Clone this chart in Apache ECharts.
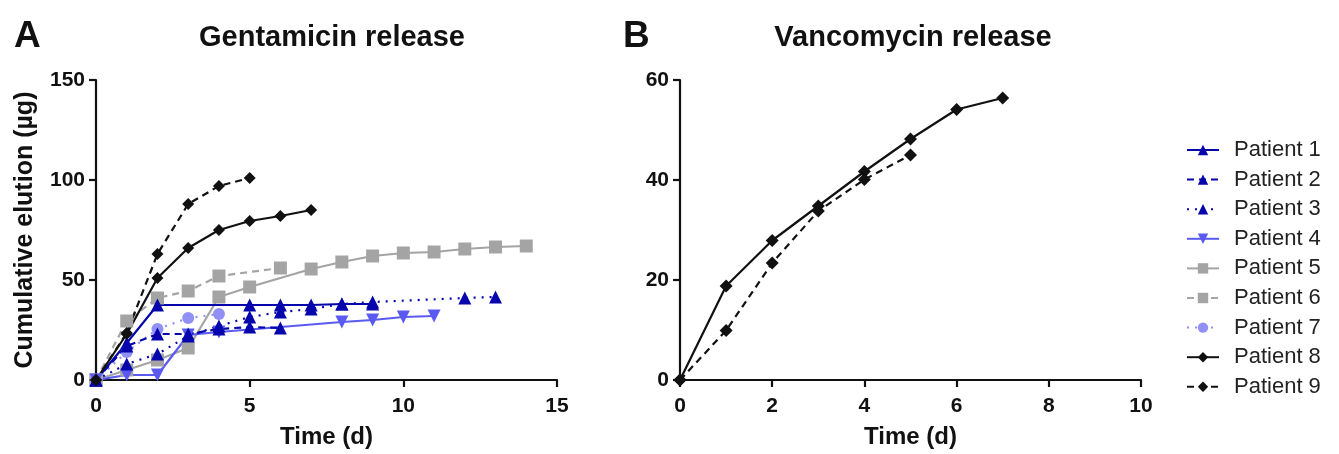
<!DOCTYPE html>
<html>
<head>
<meta charset="utf-8">
<script src="https://cdn.jsdelivr.net/npm/echarts@6/dist/echarts.min.js"></script>
<style>
  html, body { margin: 0; padding: 0; background: #fff; }
  #chart { width: 1339px; height: 454px; }
</style>
</head>
<body>
<div id="chart"></div>
<script>
// Sampling days (index = day); null where no sample was taken
const gentaDays = [0, 1, 2, 3, 4, 5, 6, 7, 8, 9, 10, 11, 12, 13, 14];
const vancoDays = [0, 1, 2, 3, 4, 5, 6, 7];

// Cumulative gentamicin elution (µg)
const gentaP1 = [0, 18.5, 37.5, null, null, 37.5, 37.5, 37.5, 38, 38];
const gentaP2 = [0, 17, 23, 23, 25.5, 26.5, 26];
const gentaP3 = [0, 8, 13, 22, 27, 31.5, 34, 35.5, 38, 39, null, null, 41, 41.5];
const gentaP4 = [0, 2.5, 2.5, 22.5, 24, null, null, null, 29, 30, 31.5, 32];
const gentaP5 = [0, 5, 10, 16, 41.5, 46.5, null, 55.5, 59, 62, 63.5, 64, 65.5, 66.5, 67];
const gentaP6 = [0, 29.5, 41, 44.5, 52, null, 56];
const gentaP7 = [0, 14, 25.5, 31, 33];
const gentaP8 = [0, 23, 51, 66, 75, 79.5, 82, 85];
const gentaP9 = [0, 23.5, 63, 88, 97, 101];

// Cumulative vancomycin elution (µg)
const vancoP8 = [0, 18.8, 27.9, 34.8, 41.7, 48.2, 54.1, 56.4];
const vancoP9 = [0, 9.9, 23.4, 33.8, 40.1, 45];

const patientNames = ['Patient 1', 'Patient 2', 'Patient 3', 'Patient 4', 'Patient 5',
  'Patient 6', 'Patient 7', 'Patient 8', 'Patient 9'];

const FONT = "'Liberation Sans', Arial, sans-serif";
const INK = '#111';
const DARK_BLUE = '#0606ac';
const MID_BLUE = '#5a5af2';
const LIGHT_BLUE = '#9090f6';
const GREY = '#a4a4a4';

const DASH = [7, 5];
const DOT = [2, 6];

function pairs(days, values) {
  const out = [];
  values.forEach((v, i) => { if (v !== null && v !== undefined) out.push([days[i], v]); });
  return out;
}

function line(name, days, values, panel, color, type, symbol, size, rotate) {
  return {
    name: name,
    type: 'line',
    xAxisIndex: panel,
    yAxisIndex: panel,
    data: pairs(days, values),
    symbol: symbol,
    symbolSize: size,
    symbolRotate: rotate || 0,
    showSymbol: true,
    animation: false,
    lineStyle: { color: color, width: 2.2, type: type },
    itemStyle: { color: color, borderWidth: 0 },
    emphasis: { disabled: true }
  };
}

const chart = echarts.init(document.getElementById('chart'), null, { renderer: 'canvas' });

function axisCommon(horizontal) {
  return {
    axisLine: { show: true, lineStyle: { color: INK, width: 2.2 } },
    axisTick: { show: true, length: 7, lineStyle: { color: INK, width: 2.2 } },
    splitLine: { show: false },
    axisLabel: { color: INK, fontFamily: FONT, fontWeight: 'bold', fontSize: 21,
      margin: horizontal ? 16 : 11 }
  };
}

const nameStyle = { fontFamily: FONT, fontWeight: 'bold', fontSize: 24, color: INK };

const series = [
  line('Patient 5', gentaDays, gentaP5, 0, GREY, 'solid', 'rect', 13),
  line('Patient 6', gentaDays, gentaP6, 0, GREY, DASH, 'rect', 13),
  line('Patient 7', gentaDays, gentaP7, 0, LIGHT_BLUE, DOT, 'circle', 12),
  line('Patient 4', gentaDays, gentaP4, 0, MID_BLUE, 'solid', 'triangle', 13, 180),
  line('Patient 3', gentaDays, gentaP3, 0, DARK_BLUE, DOT, 'triangle', 13),
  line('Patient 2', gentaDays, gentaP2, 0, DARK_BLUE, DASH, 'triangle', 13),
  line('Patient 1', gentaDays, gentaP1, 0, DARK_BLUE, 'solid', 'triangle', 13),
  line('Patient 8', gentaDays, gentaP8, 0, INK, 'solid', 'diamond', 12),
  line('Patient 9', gentaDays, gentaP9, 0, INK, DASH, 'diamond', 12),
  line('Patient 8', vancoDays, vancoP8, 1, INK, 'solid', 'diamond', 13),
  line('Patient 9', vancoDays, vancoP9, 1, INK, DASH, 'diamond', 13)
];

chart.setOption({
  backgroundColor: '#fff',
  animation: false,
  title: [
    { text: 'A', left: 9, top: 13, textStyle: { fontFamily: FONT, fontWeight: 'bold', fontSize: 37, color: INK } },
    { text: 'Gentamicin release', left: 327, top: 18, textAlign: 'center',
      textStyle: { fontFamily: FONT, fontWeight: 'bold', fontSize: 29, color: INK } },
    { text: 'B', left: 618, top: 13, textStyle: { fontFamily: FONT, fontWeight: 'bold', fontSize: 37, color: INK } },
    { text: 'Vancomycin release', left: 908, top: 18, textAlign: 'center',
      textStyle: { fontFamily: FONT, fontWeight: 'bold', fontSize: 29, color: INK } }
  ],
  legend: {
    data: patientNames,
    orient: 'vertical',
    left: 1181,
    top: 134,
    height: 300,
    itemWidth: 32,
    itemHeight: 13,
    itemGap: 7.6,
    selectedMode: false,
    textStyle: { fontFamily: FONT, fontSize: 22, lineHeight: 22, color: '#222', padding: [0, 0, 0, 10] }
  },
  grid: [
    { left: 96, top: 80, width: 461, height: 305 },
    { left: 680, top: 80, width: 461, height: 305 }
  ],
  xAxis: [
    Object.assign(axisCommon(true), {
      type: 'value', gridIndex: 0, min: 0, max: 15, interval: 5,
      name: 'Time (d)', nameLocation: 'middle', nameGap: 45, nameTextStyle: nameStyle
    }),
    Object.assign(axisCommon(true), {
      type: 'value', gridIndex: 1, min: 0, max: 10, interval: 2,
      name: 'Time (d)', nameLocation: 'middle', nameGap: 45, nameTextStyle: nameStyle
    })
  ],
  yAxis: [
    Object.assign(axisCommon(false), {
      type: 'value', gridIndex: 0, min: 0, max: 150, interval: 50,
      name: 'Cumulative elution (µg)', nameLocation: 'middle', nameGap: 58,
      nameTextStyle: Object.assign({}, nameStyle, { fontSize: 25 })
    }),
    Object.assign(axisCommon(false), {
      type: 'value', gridIndex: 1, min: 0, max: 60, interval: 20
    })
  ],
  series: series
});
</script>
</body>
</html>
